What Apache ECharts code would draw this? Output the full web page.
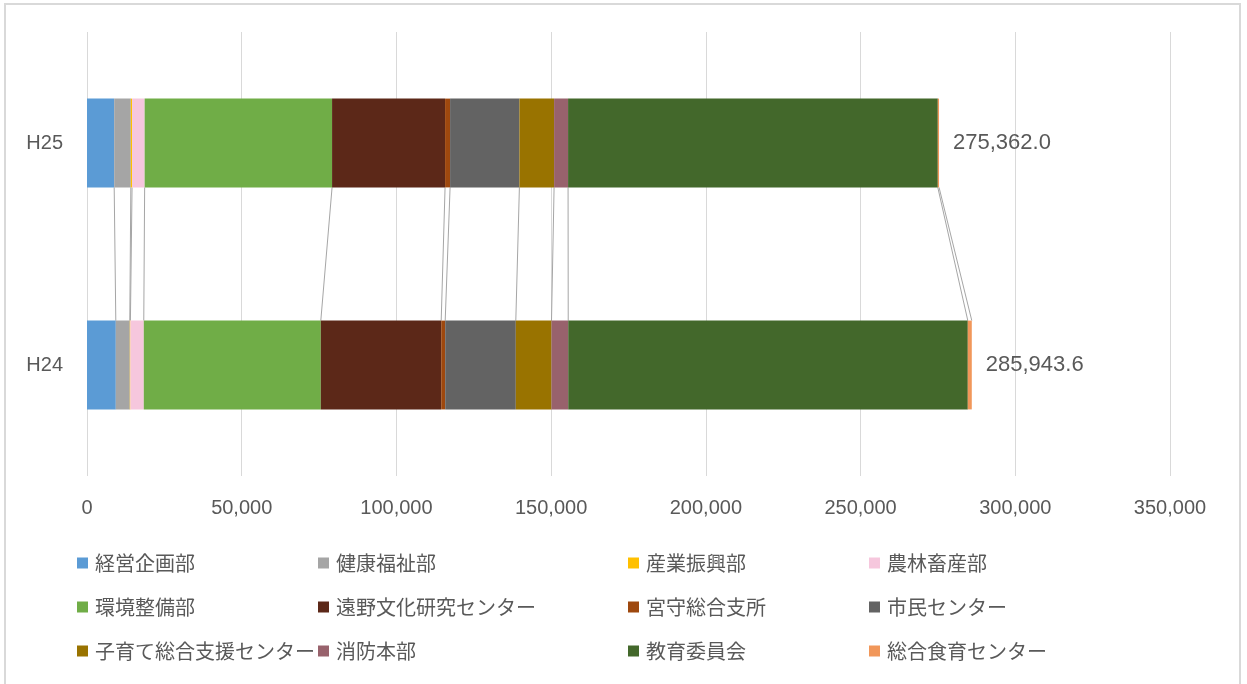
<!DOCTYPE html>
<html>
<head>
<meta charset="utf-8">
<script src="https://cdn.jsdelivr.net/npm/echarts@6/dist/echarts.min.js"></script>
<style>
  html, body { margin: 0; padding: 0; background: #fff; }
  #chart { width: 1247px; height: 684px; }
</style>
</head>
<body>
<div id="chart"></div>
<script>
// Fiscal years (bottom to top)
const categories = ['H24', 'H25'];

// Departments, in stacking order
const departments = [
  '経営企画部', '健康福祉部', '産業振興部', '農林畜産部',
  '環境整備部', '遠野文化研究センター', '宮守総合支所', '市民センター',
  '子育て総合支援センター', '消防本部', '教育委員会', '総合食育センター'
];

// Amounts per department
const valuesH24 = [9310, 4520, 200, 4320, 57210, 38910, 1290, 22820, 11540, 5400, 129133.6, 1290];
const valuesH25 = [8790, 5370, 400, 4070, 60570, 36520, 1620, 22400, 11210, 4520, 119492, 400];

// Axis ticks
const xTicks = [0, 50000, 100000, 150000, 200000, 250000, 300000, 350000];

const palette = [
  '#5B9BD5', '#A5A5A5', '#FFC000', '#F6C7DD',
  '#70AD47', '#5C2818', '#9E480E', '#636363',
  '#997300', '#98626C', '#43682B', '#F1975A'
];

const textColor = '#595959';
const fontFamily = '"Noto Sans CJK JP", "Liberation Sans", sans-serif';
const numFont = '"Liberation Sans", Arial, sans-serif';

const fmtTotal = new Intl.NumberFormat('en-US', { minimumFractionDigits: 1, maximumFractionDigits: 1 });
const fmtTick = new Intl.NumberFormat('en-US', { maximumFractionDigits: 0 });

const sum = arr => arr.reduce((a, b) => a + b, 0);
const totals = [sum(valuesH24), sum(valuesH25)];

// cumulative right edges of each segment, used for the series connector lines
const cumulative = arr => { let s = 0; return arr.map(v => (s += v)); };
const cum24 = cumulative(valuesH24);
const cum25 = cumulative(valuesH25);
const connectorData = departments.map((_, i) => [cum25[i], cum24[i], 0]);

const BAR_RATIO = 0.4;

const barSeries = departments.map((name, i) => {
  const s = {
    name,
    type: 'bar',
    stack: 'total',
    barWidth: (BAR_RATIO * 100) + '%',
    itemStyle: { color: palette[i] },
    emphasis: { disabled: true },
    data: [valuesH24[i], valuesH25[i]]
  };
  if (i === departments.length - 1) {
    s.label = {
      show: true,
      position: 'right',
      distance: 14,
      color: textColor,
      fontFamily: numFont,
      fontSize: 22,
      formatter: p => fmtTotal.format(totals[p.dataIndex])
    };
  }
  return s;
});

const connectorSeries = {
  name: 'connectors',
  type: 'custom',
  silent: true,
  z: 1,
  encode: { x: [0, 1], y: 2 },
  data: connectorData,
  renderItem(params, api) {
    const top = api.coord([api.value(0), 1]);
    const bottom = api.coord([api.value(1), 0]);
    const half = api.size([0, 1])[1] * BAR_RATIO / 2;
    return {
      type: 'line',
      shape: { x1: top[0], y1: top[1] + half, x2: bottom[0], y2: bottom[1] - half },
      style: { stroke: '#A6A6A6', lineWidth: 1 }
    };
  }
};

// legend laid out as four columns of three
const legendCols = [[], [], [], []];
departments.forEach((n, i) => legendCols[i % 4].push(n));
const legendLeft = [77, 318, 628, 869];
const legends = legendCols.map((names, c) => ({
  data: names,
  orient: 'vertical',
  left: legendLeft[c],
  top: 553,
  padding: 0,
  itemGap: 24,
  itemWidth: 11,
  itemHeight: 11,
  icon: 'rect',
  selectedMode: false,
  textStyle: { color: textColor, fontSize: 20, fontFamily, padding: [0, 0, 0, 2] }
}));

const chart = echarts.init(document.getElementById('chart'), null, { renderer: 'canvas' });
chart.setOption({
  animation: false,
  backgroundColor: '#fff',
  graphic: [{
    type: 'rect',
    shape: { x: 5, y: 4, width: 1235, height: 684 },
    style: { fill: 'none', stroke: '#D9D9D9', lineWidth: 2 },
    silent: true
  }],
  grid: { left: 87, right: 77, top: 32, bottom: 208, containLabel: false },
  legend: legends,
  xAxis: {
    type: 'value',
    min: xTicks[0],
    max: xTicks[xTicks.length - 1],
    interval: xTicks[1] - xTicks[0],
    axisLine: { show: false },
    axisTick: { show: false },
    splitLine: { show: true, lineStyle: { color: '#D9D9D9', width: 1 } },
    axisLabel: {
      color: textColor, fontSize: 20, fontFamily: numFont, margin: 22,
      formatter: v => fmtTick.format(v)
    }
  },
  yAxis: {
    type: 'category',
    data: categories,
    axisLine: { show: false },
    axisTick: { show: false },
    axisLabel: { color: textColor, fontSize: 20, fontFamily: numFont, margin: 24 }
  },
  series: [connectorSeries, ...barSeries]
});
</script>
</body>
</html>
